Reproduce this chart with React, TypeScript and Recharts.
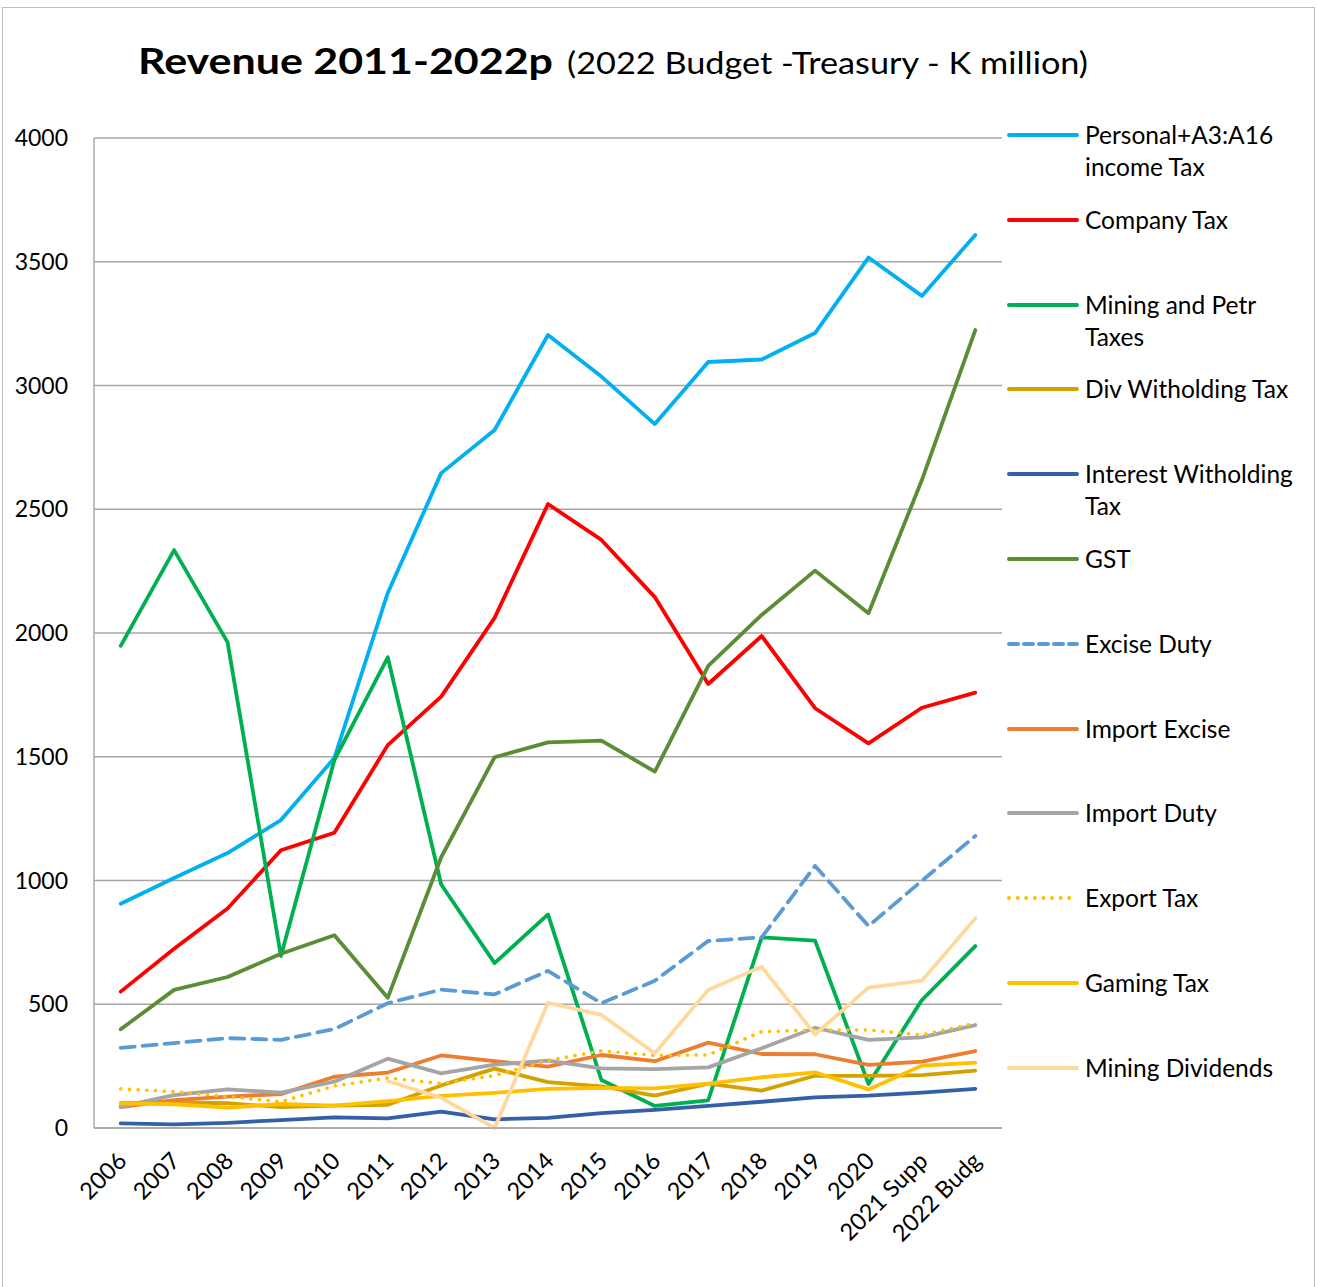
import React from 'react';
import { LineChart, Line, XAxis, YAxis, CartesianGrid } from 'recharts';

const categories = ['2006', '2007', '2008', '2009', '2010', '2011', '2012', '2013', '2014', '2015', '2016', '2017', '2018', '2019', '2020', '2021 Supp', '2022 Budg'];

const personalTax = [906, 1010, 1111, 1244, 1495, 2162, 2646, 2820, 3204, 3036, 2844, 3095, 3105, 3212, 3517, 3362, 3608];
const companyTax = [551, 724, 887, 1122, 1193, 1547, 1743, 2061, 2521, 2376, 2145, 1794, 1988, 1696, 1554, 1698, 1759];
const miningTax = [1948, 2335, 1963, 695, 1486, 1902, 984, 666, 863, 194, 89, 112, 770, 757, 178, 517, 735];
const divTax = [100, 104, 100, 84, 90, 94, 172, 240, 185, 168, 131, 179, 151, 211, 211, 214, 232];
const interestTax = [19, 15, 21, 32, 43, 39, 66, 35, 41, 60, 73, 89, 106, 124, 131, 143, 158];
const gst = [399, 558, 610, 704, 779, 526, 1094, 1498, 1558, 1565, 1440, 1867, 2073, 2252, 2080, 2618, 3224];
const exciseDuty = [324, 343, 363, 356, 400, 504, 559, 540, 635, 504, 595, 756, 770, 1059, 816, 999, 1180];
const importExcise = [84, 113, 127, 137, 207, 224, 293, 270, 248, 295, 270, 345, 299, 298, 255, 268, 311];
const importDuty = [86, 133, 156, 143, 187, 280, 221, 256, 272, 241, 238, 245, 322, 405, 356, 366, 416];
const exportTax = [158, 147, 127, 106, 170, 202, 180, 212, 273, 312, 293, 295, 389, 396, 396, 376, 423];
const gamingTax = [100, 96, 82, 97, 90, 109, 130, 142, 158, 162, 160, 179, 205, 225, 156, 252, 264];
const miningDividends = [null, null, null, null, null, 190, 122, 0, 506, 457, 302, 558, 652, 378, 567, 595, 847];

const yTicks = [0, 500, 1000, 1500, 2000, 2500, 3000, 3500, 4000];

const seriesNames = ['Personal+A3:A16 income Tax', 'Company Tax', 'Mining and Petr Taxes', 'Div Witholding Tax', 'Interest Witholding Tax', 'GST', 'Excise Duty', 'Import Excise', 'Import Duty', 'Export Tax', 'Gaming Tax', 'Mining Dividends'];
const legendLabels = ['Personal+A3:A16\nincome Tax', 'Company Tax', 'Mining and Petr\nTaxes', 'Div Witholding Tax', 'Interest Witholding\nTax', 'GST', 'Excise Duty', 'Import Excise', 'Import Duty', 'Export Tax', 'Gaming Tax', 'Mining Dividends'];
const seriesValues = [personalTax, companyTax, miningTax, divTax, interestTax, gst, exciseDuty, importExcise, importDuty, exportTax, gamingTax, miningDividends];
const seriesColors = ['#00B0F0', '#FF0000', '#00B050', '#D4A200', '#3560A8', '#5B8C36', '#5B9BD5', '#ED7D31', '#A5A5A5', '#FFC000', '#FFC000', '#FFD89E'];
const seriesDash = ['', '', '', '', '', '', '14 8', '', '', '0.1 8.6', '', ''];

const keys = seriesNames.map((_, i) => 's' + i);

const data = categories.map((c, j) => {
  const row: any = { cat: c };
  seriesValues.forEach((vals, i) => {
    row[keys[i]] = vals[j];
  });
  return row;
});

const FONT = 'Lato, "Open Sans", sans-serif';

const XTick = (props: any) => {
  const { x, y, payload } = props;
  const ax = x + 1;
  const ay = y + 28;
  return (
    <text
      x={ax}
      y={ay}
      transform={`rotate(-45 ${ax} ${ay})`}
      textAnchor="end"
      dominantBaseline="central"
      fontSize={23.5}
      fontFamily={FONT}
      fill="#000"
    >
      {payload.value}
    </text>
  );
};

const Legend = () => (
  <>
    {seriesNames.map((name, i) => {
      const cy = 135 + i * 84.8;
      const dash = seriesDash[i];
      return (
        <div key={name} style={{ position: 'absolute', left: 1006, top: cy - 16, width: 305, height: 70 }}>
          <svg width={74} height={32} style={{ position: 'absolute', left: 0, top: 0 }}>
            <line
              x1={3}
              y1={16}
              x2={dash === '0.1 8.6' ? 66 : 71}
              y2={16}
              stroke={seriesColors[i]}
              strokeWidth={4}
              strokeLinecap="round"
              strokeDasharray={dash === '14 8' ? '9 6' : dash === '0.1 8.6' ? '0.1 8.5' : undefined}
            />
          </svg>
          <div
            style={{
              position: 'absolute',
              left: 79,
              top: 0,
              fontFamily: FONT,
              fontSize: 24.5,
              lineHeight: '32px',
              color: '#000',
              whiteSpace: 'pre',
            }}
          >
            {legendLabels[i]}
          </div>
        </div>
      );
    })}
  </>
);

export default function App() {
  return (
    <div style={{ position: 'absolute', left: 0, top: 0, width: 1317, height: 1287, overflow: 'hidden', background: '#fff' }}>
      <div style={{ position: 'absolute', left: 2, top: 7, width: 1313, height: 1320, border: '1.5px solid #BFBFBF', boxSizing: 'border-box' }} />
      <svg width={1317} height={110} style={{ position: 'absolute', left: 0, top: 0 }}>
        <text x={138} y={74} fontFamily={FONT} fontWeight={700} fontSize={37} textLength={415} lengthAdjust="spacingAndGlyphs" fill="#000">
          Revenue 2011-2022p
        </text>
        <text x={567} y={74} fontFamily={FONT} fontSize={31} textLength={521} lengthAdjust="spacingAndGlyphs" fill="#000">
          (2022 Budget -Treasury - K million)
        </text>
      </svg>
      <div style={{ position: 'absolute', left: 0, top: 0 }}>
        <LineChart width={1317} height={1287} data={data} margin={{ top: 138, right: 315, bottom: 39, left: 0 }}>
          <CartesianGrid vertical={false} stroke="#A6A6A6" strokeWidth={1.4} />
          <XAxis
            dataKey="cat"
            height={120}
            interval={0}
            padding={{ left: 26.7, right: 26.7 }}
            tick={<XTick />}
            tickLine={false}
            tickSize={0}
            tickMargin={0}
            axisLine={{ stroke: '#A6A6A6', strokeWidth: 1.6 }}
          />
          <YAxis
            width={94}
            domain={[0, 4000]}
            ticks={yTicks}
            interval={0}
            tickLine={false}
            tickSize={0}
            tickMargin={26}
            axisLine={{ stroke: '#A6A6A6', strokeWidth: 1.4 }}
            tick={{ fontSize: 23, fontFamily: FONT, fill: '#000' }}
          />
          {keys.map((k, i) => (
            <Line
              key={k}
              type="linear"
              dataKey={k}
              name={seriesNames[i]}
              stroke={seriesColors[i]}
              strokeWidth={i === 9 ? 3.6 : 3.8}
              strokeDasharray={seriesDash[i] || undefined}
              strokeLinecap="round"
              strokeLinejoin="round"
              dot={false}
              activeDot={false}
              isAnimationActive={false}
              connectNulls={false}
            />
          ))}
        </LineChart>
      </div>
      <Legend />
    </div>
  );
}
